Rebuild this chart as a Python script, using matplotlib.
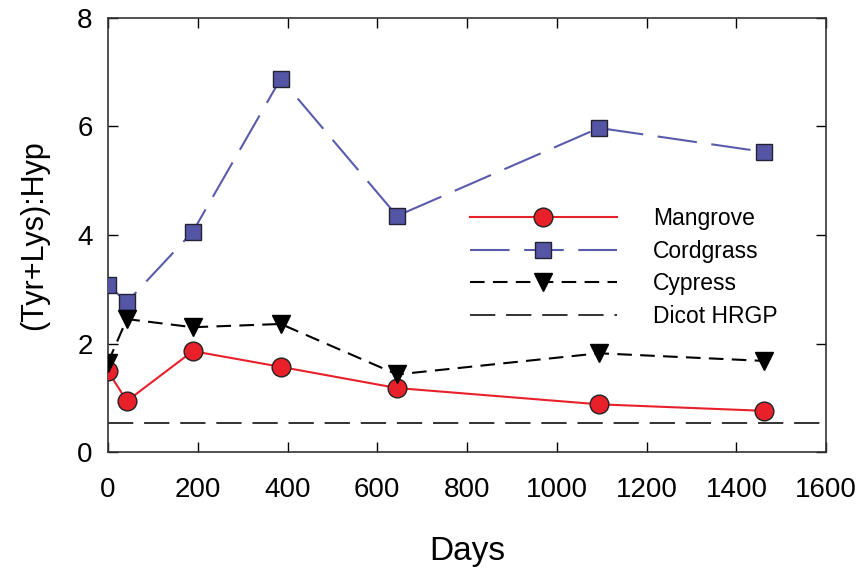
import matplotlib
matplotlib.use("Agg")
import matplotlib.pyplot as plt

plt.rcParams['font.family'] = ['Liberation Sans', 'DejaVu Sans']

# Data
days = [0, 42, 189, 385, 644, 1094, 1461]
mangrove = [1.49, 0.94, 1.86, 1.57, 1.18, 0.88, 0.76]
cordgrass = [3.08, 2.76, 4.06, 6.88, 4.35, 5.97, 5.53]
cypress = [1.65, 2.45, 2.30, 2.36, 1.43, 1.82, 1.68]
dicot_hrgp = 0.53

x_ticks = [0, 200, 400, 600, 800, 1000, 1200, 1400, 1600]
y_ticks = [0, 2, 4, 6, 8]

fig = plt.figure(figsize=(8.57, 5.73), dpi=100)
ax = fig.add_axes([0.126, 0.211, 0.838, 0.758])

red = '#e8202a'
blue = '#5b5bab'

ax.plot(days, mangrove, color=red, lw=1.5, marker='o', ms=13.5,
        mfc=red, mec='#222222', mew=1.0, label='Mangrove', zorder=3)
ax.plot(days, cordgrass, color=blue, lw=1.5, dashes=(19, 7), marker='s', ms=12,
        mfc='#5555a5', mec='#222233', mew=1.0, label='Cordgrass', zorder=3)
ax.plot(days, cypress, color='black', lw=1.5, dashes=(7, 4), marker='v', ms=12.5,
        mfc='black', mec='black', label='Cypress', zorder=3)
ax.axhline(dicot_hrgp, color='#222222', lw=1.3, dashes=(14, 6), label='Dicot HRGP', zorder=2)

ax.set_xlim(0, 1600)
ax.set_ylim(0, 8)
ax.set_xticks(x_ticks)
ax.set_yticks(y_ticks)
ax.tick_params(direction='in', top=True, right=True, length=7, width=1,
               labelsize=20)
ax.tick_params(axis='x', pad=18)
ax.tick_params(axis='y', pad=11)
for s in ax.spines.values():
    s.set_linewidth(1.2)
    s.set_color('#333333')

ax.set_xlabel('Days', fontsize=24, labelpad=24)
ax.set_ylabel('(Tyr+Lys):Hyp', fontsize=22, labelpad=20)

ax.legend(loc='upper left', bbox_to_anchor=(470 / 857, 1 - 207 / 573),
          bbox_transform=fig.transFigure, frameon=False, fontsize=16.5,
          handlelength=6.4, handletextpad=1.6, labelspacing=0.42,
          borderpad=0, borderaxespad=0, numpoints=1)

fig.savefig('out.png', dpi=100)
